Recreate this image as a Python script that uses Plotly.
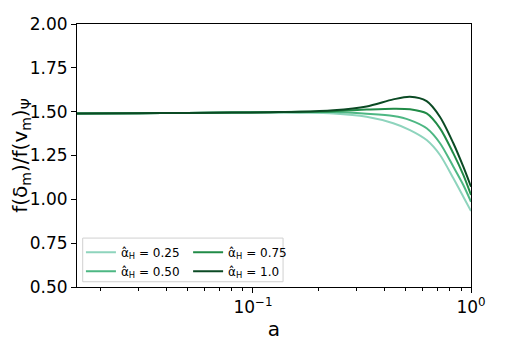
import plotly.graph_objects as go

# scale factor a (log axis) and growth ratio for each alpha_H
a = [0.0156, 0.03, 0.05, 0.08, 0.12, 0.164, 0.234, 0.332, 0.44, 0.525, 0.626, 0.721, 0.83, 0.922, 1.0]

f_025 = [1.490, 1.491, 1.493, 1.494, 1.495, 1.494, 1.490, 1.471, 1.434, 1.395, 1.338, 1.253, 1.120, 1.015, 0.933]
f_050 = [1.490, 1.491, 1.493, 1.495, 1.497, 1.497, 1.498, 1.488, 1.475, 1.452, 1.405, 1.320, 1.186, 1.082, 0.986]
f_075 = [1.490, 1.491, 1.493, 1.495, 1.497, 1.499, 1.503, 1.512, 1.517, 1.514, 1.490, 1.405, 1.262, 1.139, 1.025]
f_100 = [1.490, 1.491, 1.493, 1.495, 1.497, 1.499, 1.508, 1.530, 1.570, 1.585, 1.560, 1.470, 1.320, 1.186, 1.072]

alphas = ["0.25", "0.50", "0.75", "1.0"]
colors = ["#8ed4bd", "#4db783", "#218b47", "#0b4a24"]
series = [f_025, f_050, f_075, f_100]
legends = ["legend", "legend", "legend2", "legend2"]

yticks = [0.5, 0.75, 1.0, 1.25, 1.5, 1.75, 2.0]

fig = go.Figure()

for al, col, ys, lg in zip(alphas, colors, series, legends):
    fig.add_trace(go.Scatter(
        x=a, y=ys,
        mode='lines',
        line=dict(color=col, width=2, shape='spline', smoothing=0.8),
        name='α̂<sub>H</sub> = ' + al,
        legend=lg,
    ))

font = dict(family='DejaVu Sans', size=17, color='black')

# legend frame (matplotlib style)
fig.add_shape(type='rect', xref='paper', yref='paper',
              x0=0.0145, x1=0.523, y0=0.02, y1=0.186,
              line=dict(color='#d0d0d0', width=1), fillcolor='rgba(255,255,255,0.8)',
              layer='below')

leg_common = dict(font=dict(family='DejaVu Sans', size=12, color='black'),
                  bgcolor='rgba(0,0,0,0)', borderwidth=0,
                  xanchor='left', yanchor='bottom', tracegroupgap=0,
                  itemwidth=30)

fig.update_layout(
    width=506, height=354,
    margin=dict(l=69, r=43, t=16, b=75),
    plot_bgcolor='white', paper_bgcolor='white',
    font=font,
    showlegend=True,
    legend=dict(x=0.01, y=0.005, **leg_common),
    legend2=dict(x=0.282, y=0.005, **leg_common),
    xaxis=dict(
        type='log', range=[-1.807, 0], automargin=False,
        tickvals=[0.1, 1.0], ticktext=['10<sup>−1</sup>', '10<sup>0</sup>'],
        ticks='outside', ticklen=5, tickwidth=1, tickcolor='black',
        minor=dict(ticks='outside', ticklen=3, tickcolor='black',
                   tickvals=[0.02, 0.03, 0.04, 0.05, 0.06, 0.07, 0.08, 0.09,
                             0.2, 0.3, 0.4, 0.5, 0.6, 0.7, 0.8, 0.9]),
        showline=True, linecolor='black', linewidth=1, mirror=True,
        showgrid=False, zeroline=False,
        title=dict(text='a', standoff=3),
    ),
    yaxis=dict(
        range=[0.5, 2.0], automargin=False,
        tickvals=yticks, tickformat='.2f',
        ticks='outside', ticklen=5, tickwidth=1, tickcolor='black',
        showline=True, linecolor='black', linewidth=1, mirror=True,
        showgrid=False, zeroline=False,
        title=dict(text='f(δ<sub>m</sub>)/f(v<sub>m</sub>)<sub>Ψ</sub>', standoff=8),
    ),
)

fig.write_html("out.html")
